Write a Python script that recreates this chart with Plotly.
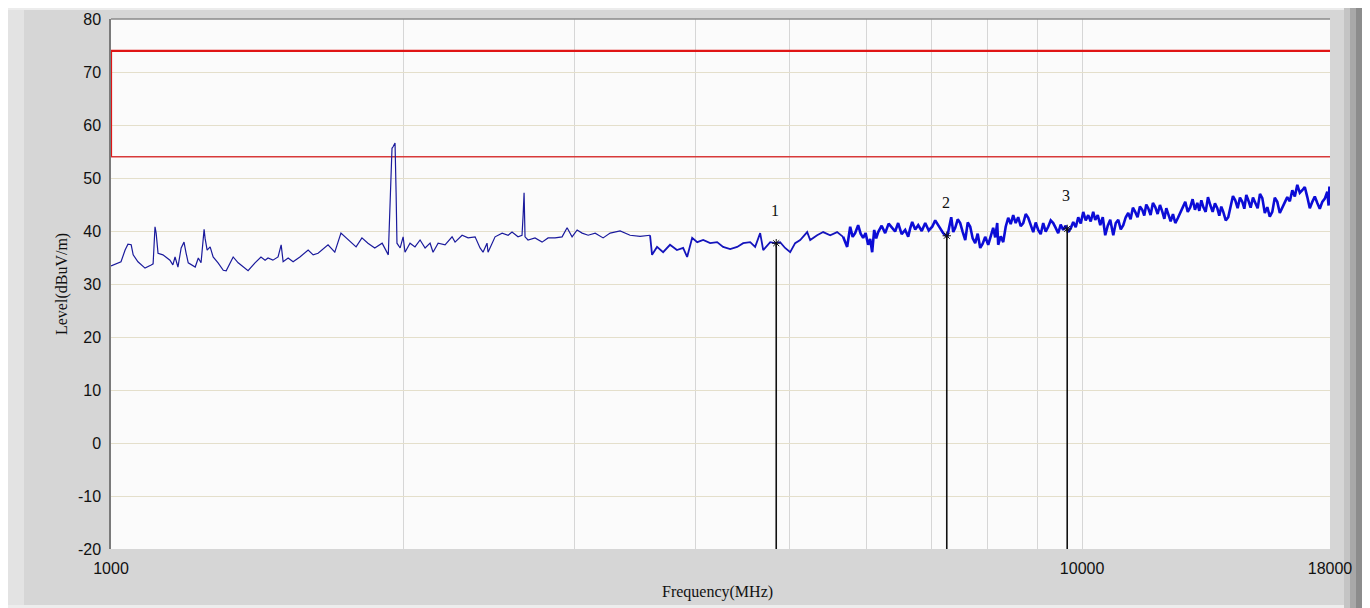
import math
import plotly.graph_objects as go

# ---- data ----
freq_mhz = [
    1000, 1024, 1034, 1041, 1049, 1054, 1066, 1084, 1100, 1105, 1110, 1113, 1118, 1131, 1150, 1158,
    1164, 1172, 1181, 1189, 1195, 1201, 1221, 1230, 1238, 1247, 1250, 1256, 1265, 1274, 1289, 1305,
    1314, 1336, 1352, 1384, 1407, 1427, 1441, 1451, 1468, 1486, 1497, 1504, 1522, 1540, 1565, 1596,
    1615, 1634, 1673, 1700, 1725, 1754, 1788,
    1813, 1839, 1869, 1902, 1930, 1938, 1947, 1952, 1961, 1966, 1970, 1985, 1999, 2008, 2032, 2056,
    2081, 2106, 2131, 2146, 2172, 2208, 2245, 2261, 2299, 2332, 2371, 2399, 2416, 2439, 2445, 2486,
    2528, 2564, 2588, 2625, 2650, 2657, 2663, 2669, 2688, 2733, 2779, 2819, 2866, 2914, 2949, 2984,
    3020, 3056, 3100, 3152, 3212,
    3266, 3344, 3424, 3506, 3590, 3607, 3650, 3703, 3764, 3826, 3883, 3920, 3967, 4015, 4072, 4140,
    4209, 4269, 4341, 4414, 4477, 4552, 4606, 4661, 4695, 4773, 4830, 4887, 4945, 5005, 5064, 5125,
    5211, 5248, 5335, 5412, 5503, 5594, 5674, 5729,
    5770, 5804, 5838, 5859, 5880, 5915, 5950, 5985, 6021, 6050, 6079, 6108, 6137, 6166, 6217, 6269,
    6321, 6374, 6419, 6465, 6519, 6574, 6621, 6652, 6684, 6732, 6780, 6837, 6894, 6951, 7009, 7059,
    7109, 7151, 7194, 7263, 7332, 7367, 7402, 7446, 7490, 7535, 7580, 7625, 7670, 7715, 7761, 7807,
    7854, 7900, 7947, 8004, 8051, 8099, 8138, 8177, 8196, 8245, 8294, 8343, 8393, 8443, 8493, 8543,
    8594, 8645, 8697, 8749, 8801, 8853, 8906, 8958, 9011, 9065, 9119, 9173, 9228, 9283, 9338, 9393,
    9449, 9505, 9562, 9619, 9676, 9734, 9792, 9850, 9909, 9968, 10027, 10086, 10146, 10206, 10267, 10316,
    10378, 10440, 10502, 10564, 10627, 10690, 10767, 10831, 10895, 10960, 11025, 11090, 11156, 11218, 11280, 11342,
    11405, 11469, 11533, 11588, 11643, 11698, 11763, 11828, 11894, 11961, 12028, 12096, 12153, 12210, 12268, 12336,
    12404, 12472, 12546, 12621, 12696, 12771, 12847, 12924, 12996, 13068, 13141, 13204, 13267, 13330, 13404, 13478,
    13552, 13628, 13703, 13779, 13844, 13910, 13975, 14058, 14141, 14220, 14300, 14379, 14460, 14540, 14621, 14691,
    14760, 14830, 14913, 14995, 15078, 15162, 15246, 15331, 15422, 15513, 15605, 15698, 15791, 15885, 15980, 16075,
    16170, 16266, 16364, 16461, 16559, 16657, 16757, 16856, 16956, 17057, 17158, 17260, 17363, 17466, 17570, 17674,
    17780, 17885, 17940, 17975, 18000,
]
level_dbuv = [
    33.4, 34.2, 36.4, 37.5, 37.4, 35.5, 34.2, 33.0, 33.6, 33.8, 40.8, 39.6, 35.8, 35.5, 34.5, 33.6,
    35.1, 33.2, 36.8, 37.9, 35.8, 34.0, 33.2, 34.9, 34.0, 40.3, 38.6, 36.4, 37.0, 35.1, 34.0, 32.6,
    32.5, 35.1, 34.0, 32.5, 34.0, 35.1, 34.5, 34.9, 34.5, 35.1, 37.4, 34.2, 34.9, 34.2, 35.1, 36.4,
    35.5, 35.8, 37.4, 36.0, 39.6, 38.3, 37.0,
    38.7, 37.7, 36.8, 37.7, 35.5, 45.3, 55.6, 55.9, 56.6, 47.2, 37.7, 36.8, 38.9, 36.0, 37.7, 37.0,
    38.3, 36.8, 37.7, 36.0, 37.7, 37.4, 38.9, 37.9, 39.2, 38.7, 38.9, 36.8, 36.0, 37.7, 36.0, 38.9,
    39.6, 39.2, 39.8, 38.9, 39.2, 43.0, 47.2, 38.9, 38.3, 38.7, 37.9, 38.7, 38.7, 38.9, 40.6, 38.9,
    40.2, 39.6, 39.2, 39.6, 38.7,
    39.6, 40.0, 39.2, 39.0, 39.2, 35.5, 37.0, 36.0, 37.4, 36.4, 36.8, 35.1, 38.7, 37.9, 38.3, 37.7,
    37.9, 37.0, 36.6, 37.0, 37.7, 37.9, 37.0, 39.6, 36.4, 37.9, 37.7, 37.9, 36.8, 36.0, 37.7, 38.3,
    39.8, 38.3, 39.2, 39.8, 39.2, 39.8, 38.9, 37.0,
    40.8, 38.9, 39.6, 40.3, 41.1, 39.5, 38.7, 39.6, 37.4, 38.5, 36.0, 40.2, 38.6, 39.8, 41.0, 39.6,
    41.4, 40.6, 39.9, 41.5, 39.4, 40.2, 38.9, 40.5, 41.7, 40.3, 41.1, 40.0, 41.5, 40.1, 40.8, 42.0,
    41.1, 40.3, 39.6, 38.9, 42.6, 39.8, 40.6, 42.2, 41.5, 39.8, 38.3, 41.6, 40.8, 38.6, 37.7, 39.5,
    36.8, 37.6, 38.9, 37.4, 39.2, 40.6, 38.8, 41.5, 37.4, 39.0, 37.9, 40.8, 42.5, 41.3, 43.0, 41.5,
    42.6, 40.9, 41.5, 43.2, 42.5, 41.0, 39.8, 41.6, 40.2, 39.4, 41.5, 39.9, 40.8, 42.0, 41.5, 40.6,
    39.6, 41.2, 40.2, 41.0, 39.8, 40.5, 41.7, 40.7, 42.6, 41.4, 43.6, 42.0, 43.0, 41.8, 43.6, 42.1,
    43.0, 41.1, 42.6, 39.2, 41.0, 42.1, 39.2, 41.5, 42.1, 40.3, 41.1, 42.6, 43.4, 42.2, 44.4, 43.6,
    42.6, 44.6, 44.0, 42.9, 45.0, 44.3, 43.0, 45.3, 44.5, 43.2, 44.9, 43.6, 42.3, 44.3, 43.0, 41.8,
    43.2, 41.5, 42.4, 43.4, 44.4, 45.5, 43.6, 44.5, 46.0, 44.0, 45.3, 43.8, 45.8, 44.5, 43.6, 46.4,
    44.9, 43.6, 45.2, 44.3, 42.9, 44.6, 43.6, 42.0, 42.6, 44.9, 46.6, 45.8, 44.3, 46.3, 45.5, 44.2,
    46.8, 45.8, 44.4, 46.3, 45.3, 44.3, 47.0, 46.2, 43.4, 44.5, 42.7, 43.6, 46.3, 45.5, 43.4, 44.3,
    45.4, 46.4, 45.6, 47.7, 46.5, 48.7, 47.2, 47.7, 48.3, 46.4, 44.3, 45.5, 46.5, 45.3, 44.2, 45.5,
    46.1, 47.4, 44.8, 48.4, 45.6,
]
assert len(freq_mhz) == len(level_dbuv)

limit_freq = [1000, 18000]
limit_peak = [74, 74]
limit_avg = [54, 54]

marker_freq = [4842, 7255, 9653]
marker_level = [37.7, 39.1, 40.4]
marker_label = ["1", "2", "3"]

y_ticks = [-20, -10, 0, 10, 20, 30, 40, 50, 60, 70, 80]
x_ticks = [1000, 10000, 18000]
x_grid = [2000, 3000, 4000, 5000, 6000, 7000, 8000, 9000, 10000]
y_min = -20

# trace density bands (style: heavier stroke where the scan is dense)
band_edges = [1000, 3600, 5700, 18000]
band_widths = [1.2, 1.8, 2.6]
band_colors = ["#1a1a9c", "#1414bc", "#0c0cd6"]

fig = go.Figure()

# limit lines
fig.add_trace(go.Scatter(x=limit_freq, y=limit_avg, mode="lines",
                         line=dict(color="#d83a3a", width=1.6), hoverinfo="skip"))
fig.add_trace(go.Scatter(x=limit_freq, y=limit_peak, mode="lines",
                         line=dict(color="#e01515", width=2.2), hoverinfo="skip"))
fig.add_trace(go.Scatter(x=[limit_freq[0], limit_freq[0]], y=[limit_avg[0], limit_peak[0]],
                         mode="lines", line=dict(color="#e01515", width=2.2), hoverinfo="skip"))

# measured trace
for lo, hi, w, c in zip(band_edges[:-1], band_edges[1:], band_widths, band_colors):
    idx = [i for i, f in enumerate(freq_mhz) if lo <= f <= hi]
    if idx and idx[0] > 0:
        idx = [idx[0] - 1] + idx
    fig.add_trace(go.Scatter(x=[freq_mhz[i] for i in idx], y=[level_dbuv[i] for i in idx],
                             mode="lines", line=dict(color=c, width=w)))

# marker drop lines
for f, lv in zip(marker_freq, marker_level):
    fig.add_trace(go.Scatter(x=[f, f], y=[lv, y_min], mode="lines",
                             line=dict(color="#111111", width=1.6), hoverinfo="skip"))
fig.add_trace(go.Scatter(x=marker_freq, y=marker_level, mode="markers",
                         marker=dict(symbol="asterisk-open", size=7, color="#111111",
                                     line=dict(color="#111111", width=1))))

for f, lv, t in zip(marker_freq, marker_level, marker_label):
    fig.add_annotation(x=math.log10(f), y=lv, text=t, showarrow=False, yshift=33, xshift=-1,
                       font=dict(family="Liberation Serif", size=16, color="#111111"))

# page is offset by the default 8px body margin
OFF = 8
W, H = 1370 - OFF, 608 - OFF
L, R, T, B = 111 - OFF, 40, 19 - OFF, 59
pw, ph = W - L - R, H - T - B


def px(x):
    return (x - OFF - L) / pw


def py(y):
    return (H - B - (y - OFF)) / ph


shapes = [
    dict(type="rect", xref="paper", yref="paper", x0=px(OFF), x1=px(24), y0=py(605), y1=py(OFF),
         fillcolor="#e3e3e3", line_width=0, layer="below"),
    dict(type="rect", xref="paper", yref="paper", x0=px(OFF), x1=px(1370), y0=py(OFF + 2), y1=py(OFF),
         fillcolor="#ececec", line_width=0, layer="below"),
    dict(type="rect", xref="paper", yref="paper", x0=px(OFF), x1=px(1370), y0=py(608), y1=py(605),
         fillcolor="#ededed", line_width=0, layer="below"),
    dict(type="rect", xref="paper", yref="paper", x0=px(1344), x1=px(1350), y0=py(608), y1=py(OFF),
         fillcolor="#c4c4c4", line_width=0, layer="below"),
    dict(type="rect", xref="paper", yref="paper", x0=px(1350), x1=px(1356), y0=py(608), y1=py(OFF),
         fillcolor="#a8a8a8", line_width=0, layer="below"),
    dict(type="rect", xref="paper", yref="paper", x0=px(1356), x1=px(1364), y0=py(608), y1=py(OFF),
         fillcolor="#8c8c8c", line_width=0, layer="below"),
    dict(type="rect", xref="paper", yref="paper", x0=px(1364), x1=px(1370), y0=py(608), y1=py(OFF),
         fillcolor="#b8b8b8", line_width=0, layer="below"),
    # top border of plot
    dict(type="line", xref="paper", yref="paper", x0=0, x1=1, y0=1, y1=1,
         line=dict(color="#8a8a8a", width=1.5)),
]

fig.update_layout(
    width=W, height=H,
    margin=dict(l=L, r=R, t=T, b=B, pad=0, autoexpand=False),
    paper_bgcolor="#d6d6d6",
    plot_bgcolor="#fbfbfb",
    showlegend=False,
    shapes=shapes,
    xaxis=dict(type="log", range=[3, math.log10(18000)], tickvals=x_ticks,
               ticktext=[str(v) for v in x_ticks], automargin=False,
               showgrid=True, gridcolor="#d6d6d6", gridwidth=1,
               minor=dict(tickvals=x_grid, showgrid=True, gridcolor="#d6d6d6", gridwidth=1),
               showline=False, zeroline=False, ticks="", ticklabelstandoff=8,
               tickfont=dict(family="Liberation Sans", size=16, color="#111111")),
    yaxis=dict(range=[-20, 80], tickvals=y_ticks, ticktext=[str(v) for v in y_ticks],
               automargin=False,
               showgrid=True, gridcolor="#e4dfcb", gridwidth=1.2,
               showline=True, linecolor="#7a7a7a", linewidth=1.5, mirror=False,
               zeroline=False, ticks="", ticklabelstandoff=5,
               tickfont=dict(family="Liberation Sans", size=16, color="#111111")),
)

fig.add_annotation(xref="paper", yref="paper", x=px(717), y=py(592), text="Frequency(MHz)",
                   xanchor="center", yanchor="middle", showarrow=False,
                   font=dict(family="Liberation Serif", size=16, color="#111111"))
fig.add_annotation(xref="paper", yref="paper", x=px(62), y=py(284), text="Level(dBuV/m)",
                   xanchor="center", yanchor="middle", textangle=-90, showarrow=False,
                   font=dict(family="Liberation Serif", size=16, color="#111111"))

fig.write_html("out.html")
